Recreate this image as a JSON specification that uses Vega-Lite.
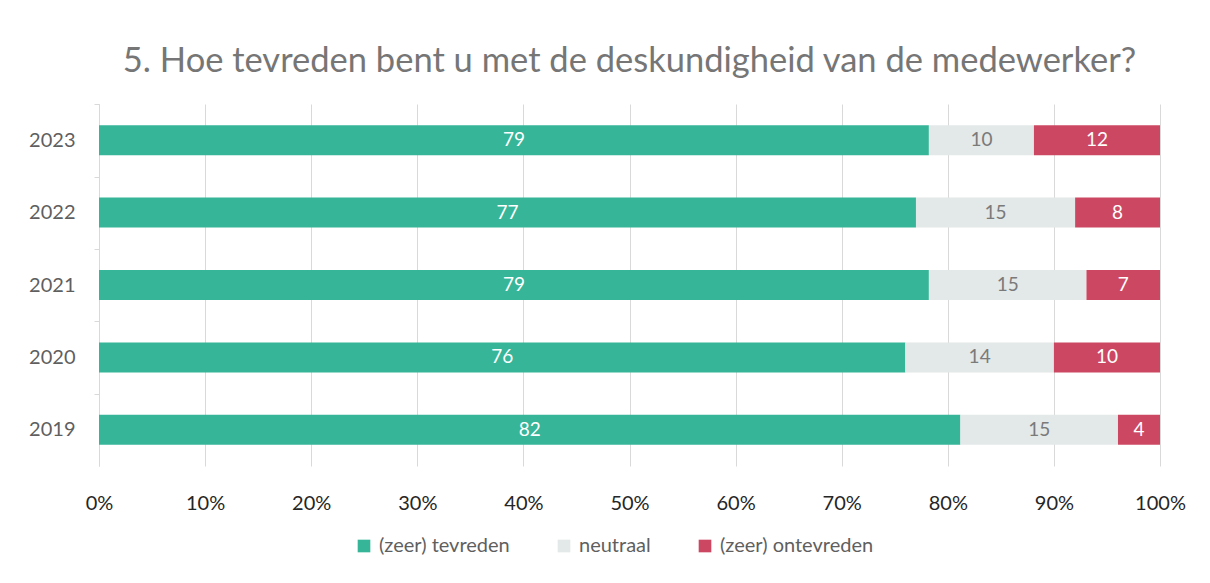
{
  "$schema": "https://vega.github.io/schema/vega-lite/v6.json",
  "width": 1061,
  "height": 362,
  "autosize": {"type": "none"},
  "padding": {"left": 99, "top": 104, "right": 50, "bottom": 117},
  "background": "white",
  "title": {
    "text": "5. Hoe tevreden bent u met de deskundigheid van de medewerker?",
    "font": "Lato",
    "fontSize": 34.5,
    "fontWeight": "normal",
    "color": "#767676",
    "anchor": "middle",
    "offset": 24
  },
  "data": {
    "values": [
      {"year": "2023", "cat": "(zeer) tevreden", "ord": 1, "value": 79},
      {"year": "2023", "cat": "neutraal", "ord": 2, "value": 10},
      {"year": "2023", "cat": "(zeer) ontevreden", "ord": 3, "value": 12},
      {"year": "2022", "cat": "(zeer) tevreden", "ord": 1, "value": 77},
      {"year": "2022", "cat": "neutraal", "ord": 2, "value": 15},
      {"year": "2022", "cat": "(zeer) ontevreden", "ord": 3, "value": 8},
      {"year": "2021", "cat": "(zeer) tevreden", "ord": 1, "value": 79},
      {"year": "2021", "cat": "neutraal", "ord": 2, "value": 15},
      {"year": "2021", "cat": "(zeer) ontevreden", "ord": 3, "value": 7},
      {"year": "2020", "cat": "(zeer) tevreden", "ord": 1, "value": 76},
      {"year": "2020", "cat": "neutraal", "ord": 2, "value": 14},
      {"year": "2020", "cat": "(zeer) ontevreden", "ord": 3, "value": 10},
      {"year": "2019", "cat": "(zeer) tevreden", "ord": 1, "value": 82},
      {"year": "2019", "cat": "neutraal", "ord": 2, "value": 15},
      {"year": "2019", "cat": "(zeer) ontevreden", "ord": 3, "value": 4}
    ]
  },
  "transform": [
    {"stack": "value", "groupby": ["year"], "sort": [{"field": "ord", "order": "ascending"}], "offset": "normalize", "as": ["s0", "s1"]},
    {"calculate": "(datum.s0 + datum.s1) / 2", "as": "mid"}
  ],
  "encoding": {
    "y": {
      "field": "year",
      "type": "nominal",
      "sort": "descending",
      "title": null,
      "scale": {"paddingInner": 0.585, "paddingOuter": 0.2925},
      "axis": {
        "domainColor": "#d9d9d9",
        "tickColor": "#d9d9d9",
        "tickSize": 5,
        "tickOffset": -36,
        "labelOffset": 36,
        "labelFont": "Lato",
        "labelFontSize": 20,
        "labelColor": "#5f5f5f",
        "labelPadding": 19,
        "grid": false
      }
    }
  },
  "layer": [
    {
      "mark": {"type": "bar"},
      "encoding": {
        "x": {
          "field": "s0",
          "type": "quantitative",
          "scale": {"domain": [0, 1], "nice": false},
          "title": null,
          "axis": {
            "format": ".0%",
            "values": [0, 0.1, 0.2, 0.3, 0.4, 0.5, 0.6, 0.7, 0.8, 0.9, 1],
            "domain": false,
            "ticks": false,
            "grid": true,
            "gridColor": "#d9d9d9",
            "gridWidth": 1,
            "labelFont": "Lato",
            "labelFontSize": 20,
            "labelColor": "#262626",
            "labelPadding": 27,
            "labelFlush": false
          }
        },
        "x2": {"field": "s1"},
        "color": {
          "field": "cat",
          "type": "nominal",
          "sort": ["(zeer) tevreden", "neutraal", "(zeer) ontevreden"],
          "scale": {
            "domain": ["(zeer) tevreden", "neutraal", "(zeer) ontevreden"],
            "range": ["#36B598", "#E3E8E8", "#CC4862"]
          },
          "legend": {
            "title": null,
            "orient": "none",
            "legendX": 255,
            "legendY": 432,
            "direction": "horizontal",
            "symbolType": "square",
            "symbolSize": 160,
            "symbolStrokeWidth": 0,
            "labelFont": "Lato",
            "labelFontSize": 20,
            "labelColor": "#5f5f5f",
            "labelOffset": 5,
            "columnPadding": 44
          }
        }
      }
    },
    {
      "mark": {"type": "text", "font": "Lato", "fontSize": 19, "baseline": "middle", "align": "center"},
      "encoding": {
        "x": {"field": "mid", "type": "quantitative"},
        "text": {"field": "value", "type": "quantitative"},
        "color": {
          "condition": {"test": "datum.cat === 'neutraal'", "value": "#7a7a7a"},
          "value": "#ffffff"
        }
      }
    }
  ],
  "config": {
    "view": {"stroke": null}
  }
}
